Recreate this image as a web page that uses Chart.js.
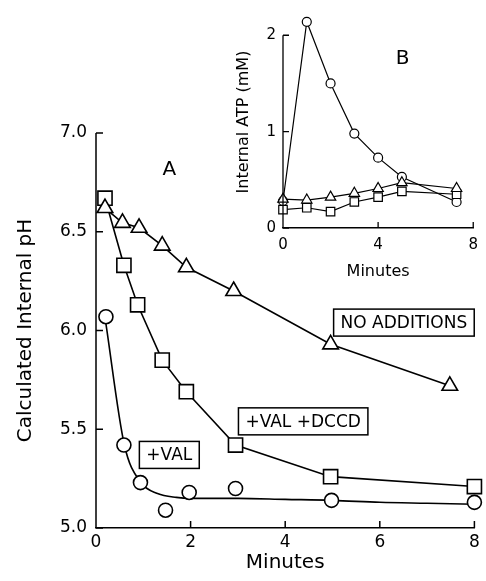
<!DOCTYPE html>
<html>
<head>
<meta charset="utf-8">
<script src="https://cdn.jsdelivr.net/npm/chart.js@4"></script>
<style>
  html, body { margin: 0; padding: 0; background: #fff; }
  #wrap { position: relative; width: 486px; height: 581px; }
  #main { position: absolute; left: 0; top: 0; }
  #inset { position: absolute; left: 200px; top: 0; }
</style>
</head>
<body>
<div id="wrap">
  <canvas id="main" width="486" height="581"></canvas>
  <canvas id="inset" width="286" height="290"></canvas>
</div>
<script>
// panel A: calculated internal pH vs minutes
const noAddMin = [0.19, 0.56, 0.91, 1.4, 1.91, 2.91, 4.96, 7.48];
const noAddPH = [6.62, 6.545, 6.52, 6.43, 6.32, 6.2, 5.93, 5.72];
const valDccdMin = [0.19, 0.59, 0.88, 1.4, 1.91, 2.95, 4.96, 8.0];
const valDccdPH = [6.67, 6.33, 6.13, 5.85, 5.69, 5.42, 5.26, 5.21];
const valMin = [0.21, 0.59, 0.94, 1.47, 1.97, 2.95, 4.98, 8.0];
const valPH = [6.07, 5.42, 5.23, 5.09, 5.18, 5.2, 5.14, 5.13];
// the smooth curve drawn through the +VAL points
const valFitMin = [0.2, 0.6, 0.95, 1.3, 1.7, 2, 3, 4, 5, 6, 7, 8];
const valFitPH = [6.05, 5.42, 5.23, 5.175, 5.155, 5.15, 5.15, 5.145, 5.14, 5.13, 5.125, 5.12];
const phTicks = [5.0, 5.5, 6.0, 6.5, 7.0];
const minTicksA = [0, 2, 4, 6, 8];

// panel B: internal ATP (mM)
const atpMin = [0, 1, 2, 3, 4, 5, 7.3];
const atpVal = [0.28, 2.14, 1.5, 0.98, 0.73, 0.53, 0.27];
const atpNoAdd = [0.3, 0.29, 0.32, 0.36, 0.41, 0.47, 0.41];
const atpValDccd = [0.19, 0.21, 0.17, 0.27, 0.32, 0.38, 0.35];
const atpTicks = [0, 1, 2];
const minTicksB = [0, 4, 8];

const FONT = '"DejaVu Sans", sans-serif';

// text labels, placed in data units
const notesA = [
  { text: 'A', x: 1.55, y: 6.82, size: 20 },
  { text: 'NO ADDITIONS', x: 6.51, y: 6.04, size: 17, box: true },
  { text: '+VAL +DCCD', x: 4.38, y: 5.54, size: 17, box: true },
  { text: '+VAL', x: 1.55, y: 5.37, size: 17, box: true }
];
const notesB = [
  { text: 'B', x: 5.03, y: 1.77, size: 20 }
];

const pts = (xs, ys) => xs.map((x, i) => ({ x: x, y: ys[i] }));

// left spine up to the last tick, and short tick marks pointing into the plot
const innerTicks = {
  id: 'innerTicks',
  afterDraw(chart, args, opts) {
    const { ctx, chartArea, scales } = chart;
    const yt = scales.y.ticks;
    ctx.save();
    ctx.strokeStyle = '#000';
    ctx.lineWidth = opts.width;
    ctx.beginPath();
    ctx.moveTo(chartArea.left, chartArea.bottom);
    ctx.lineTo(chartArea.left, scales.y.getPixelForValue(yt[yt.length - 1].value));
    scales.x.ticks.forEach(t => {
      const px = scales.x.getPixelForValue(t.value);
      ctx.moveTo(px, chartArea.bottom);
      ctx.lineTo(px, chartArea.bottom - opts.len);
    });
    yt.forEach(t => {
      const py = scales.y.getPixelForValue(t.value);
      ctx.moveTo(chartArea.left, py);
      ctx.lineTo(chartArea.left + opts.len, py);
    });
    ctx.stroke();
    ctx.restore();
  }
};

const notes = {
  id: 'notes',
  afterDraw(chart, args, opts) {
    const { ctx, scales } = chart;
    ctx.save();
    ctx.textAlign = 'center';
    ctx.textBaseline = 'middle';
    ctx.fillStyle = '#000';
    ctx.strokeStyle = '#000';
    (opts.items || []).forEach(n => {
      const px = scales.x.getPixelForValue(n.x);
      const py = scales.y.getPixelForValue(n.y);
      ctx.font = n.size + 'px ' + FONT;
      ctx.fillText(n.text, px, py + 1);
      if (n.box) {
        const w = ctx.measureText(n.text).width + 14;
        const h = 27;
        ctx.lineWidth = 1.5;
        ctx.strokeRect(px - w / 2, py - h / 2, w, h);
      }
    });
    ctx.restore();
  }
};

function axis(min, max, tickVals, fmt, fontSize, pad, fitSize, horizontal, title, titleSize, titlePad) {
  return {
    type: 'linear',
    min: min,
    max: max,
    afterBuildTicks: s => { s.ticks = tickVals.map(v => ({ value: v })); },
    afterFit: s => { if (horizontal) s.height = fitSize; else s.width = fitSize; },
    grid: { drawOnChartArea: false, drawTicks: false, tickLength: 0 },
    border: { display: horizontal, color: '#000', width: 1.5 },
    ticks: {
      color: '#000',
      padding: pad,
      font: { family: FONT, size: fontSize },
      callback: fmt
    },
    title: {
      display: true,
      text: title,
      color: '#000',
      font: { family: FONT, size: titleSize },
      padding: titlePad
    }
  };
}

function series(data, style, r, lw, extra) {
  return Object.assign({
    data: data,
    borderColor: '#000',
    borderWidth: lw,
    backgroundColor: '#fff',
    pointStyle: style,
    pointRadius: r,
    pointBorderColor: '#000',
    pointBackgroundColor: '#fff',
    pointBorderWidth: lw,
    tension: 0,
    clip: false
  }, extra || {});
}

new Chart(document.getElementById('main'), {
  type: 'line',
  data: {
    datasets: [
      series(pts(noAddMin, noAddPH), 'triangle', 9, 1.6),
      series(pts(valDccdMin, valDccdPH), 'rect', 10, 1.6),
      series(pts(valMin, valPH), 'circle', 7, 1.6, { showLine: false }),
      series(pts(valFitMin, valFitPH), 'circle', 0, 1.6, { cubicInterpolationMode: 'monotone' })
    ]
  },
  options: {
    responsive: false,
    animation: false,
    events: [],
    layout: { padding: { left: 0, top: 133, right: 8, bottom: 0 } },
    plugins: {
      legend: { display: false },
      tooltip: { enabled: false },
      innerTicks: { len: 7, width: 1.5 },
      notes: { items: notesA }
    },
    scales: {
      x: axis(0, 8, minTicksA, v => String(v), 17, 4, 53, true, 'Minutes', 20, { top: 4, bottom: 6 }),
      y: axis(5, 7, phTicks, v => v.toFixed(1), 17, 9, 96, false, 'Calculated Internal pH', 20, { top: 14, bottom: 4 })
    }
  },
  plugins: [innerTicks, notes]
});

new Chart(document.getElementById('inset'), {
  type: 'line',
  data: {
    datasets: [
      series(pts(atpMin, atpNoAdd), 'triangle', 6, 1.2),
      series(pts(atpMin, atpValDccd), 'rect', 6, 1.2),
      series(pts(atpMin, atpVal), 'circle', 4.5, 1.2)
    ]
  },
  options: {
    responsive: false,
    animation: false,
    events: [],
    layout: { padding: { left: 0, top: 12.4, right: 9, bottom: 0 } },
    plugins: {
      legend: { display: false },
      tooltip: { enabled: false },
      innerTicks: { len: 6, width: 1.3 },
      notes: { items: notesB }
    },
    scales: {
      x: axis(0, 8, minTicksB, v => String(v), 15, 8, 62, true, 'Minutes', 16, { top: 4, bottom: 9 }),
      y: axis(0, 2.2, atpTicks, v => String(v), 15, 7, 83, false, 'Internal ATP (mM)', 16, { top: 34, bottom: 4 })
    }
  },
  plugins: [innerTicks, notes]
});
</script>
</body>
</html>
